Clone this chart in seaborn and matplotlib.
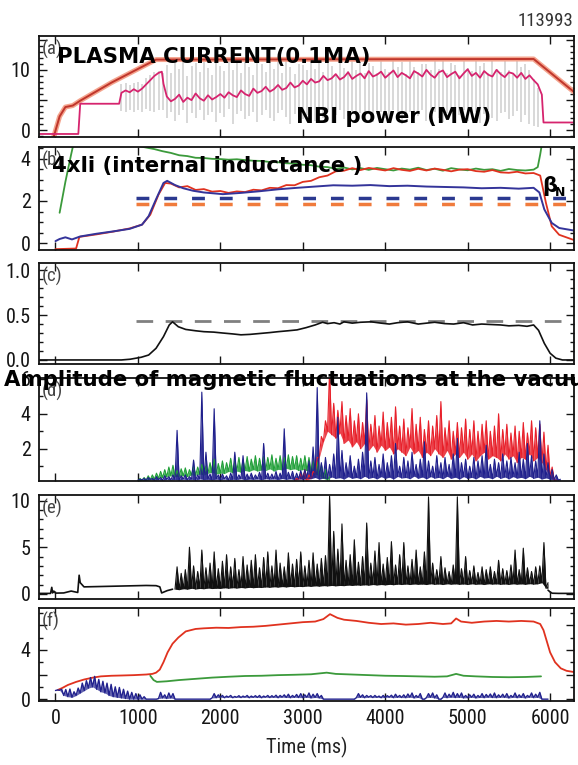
import numpy as np
import matplotlib
matplotlib.use("Agg")
import matplotlib.pyplot as plt
import seaborn as sns
from matplotlib.ticker import FixedLocator, FixedFormatter, MultipleLocator, NullFormatter

sns.set_style("ticks")
plt.rcParams["font.family"] = ["Roboto Condensed", "Liberation Sans Narrow", "Liberation Sans", "DejaVu Sans"]

# ---------------- data ----------------
# (a) plasma current (0.1 MA) and NBI power (MW)
cur_t = [-20, 50, 120, 210, 300, 680, 1220, 5800, 6317]
cur_v = [-1.0, 2.3, 3.85, 4.1, 4.9, 7.9, 11.7, 11.8, 6.05]

nbi_t_early = [-200, 277, 300, 772, 800, 850, 900, 950, 1000, 1050, 1100, 1150, 1200, 1250, 1290, 1310]
nbi_v_early = [-0.6, -0.6, 4.4, 4.4, 6.2, 6.6, 6.3, 6.8, 6.4, 6.9, 7.6, 8.3, 9.0, 9.5, 9.7, 7.7]
nbi_t = np.arange(1350, 5901, 50)
nbi_v = [5.6, 4.8, 5.2, 5.9, 4.7, 5.4, 5.0, 6.1, 5.3, 4.9, 5.8, 5.1, 5.5, 6.0,
         5.4, 6.3, 5.8, 5.5, 6.6, 6.0, 5.7, 6.9, 6.2, 6.5,
         7.2, 6.4, 6.8, 7.5, 6.7, 7.0, 7.9, 7.1, 7.4, 8.2,
         7.6, 8.5, 7.9, 8.1, 9.0, 8.3, 8.6, 9.3, 8.4, 8.8,
         9.6, 8.5, 9.0, 9.4, 8.6, 9.8, 8.9, 9.2, 9.7, 8.7,
         9.3, 9.9, 8.8, 9.5, 9.1, 8.6, 9.8, 9.4, 8.9, 10.0,
         9.2, 8.7, 9.6, 9.9, 8.8, 9.3, 9.7, 8.6, 9.4, 10.1,
         9.0, 9.5, 8.7, 9.8, 9.2, 8.9, 10.0, 9.3, 8.8, 9.6,
         9.4, 8.7, 9.5, 8.5, 9.1, 8.3, 7.6, 5.9]
nbi_t_late = [5920, 6290]
nbi_v_late = [1.3, 1.3]

gray_t = np.arange(800, 5851, 50)
gray_lo = [3.2, 3.0, 3.4, 3.1, 3.3, 3.0, 3.5, 3.2, 3.1, 3.4, 3.3,
           2.1, 3.0, 1.5, 2.6, 3.3, 1.2, 2.8, 2.0, 3.4, 1.7,
           2.5, 3.1, 1.4, 2.9, 2.2, 3.5, 1.1, 2.7, 3.2, 1.9,
           2.4, 3.0, 1.3, 2.6, 3.3, 2.0, 1.6, 2.9, 3.4, 2.2,
           1.0, 2.7, 3.1, 1.8, 2.5, 3.3, 1.5, 2.8, 2.1, 3.0,
           1.2, 2.6, 3.4, 1.9, 2.3, 3.1, 1.6, 2.9, 2.4, 3.2,
           1.4, 2.7, 3.0, 2.0, 1.7, 3.3, 2.5, 1.1, 2.8, 3.1,
           1.9, 2.4, 3.4, 1.5, 2.6, 3.0, 2.1, 1.3, 2.9, 3.2,
           1.8, 2.5, 3.3, 1.6, 2.2, 3.0, 1.2, 2.7, 3.4, 2.0,
           1.5, 2.8, 3.1, 1.9, 2.4, 3.2, 1.4, 2.6, 1.0, 0.8, 0.6]
gray_hi = [7.6, 7.8, 7.5, 7.9, 8.0, 7.7, 8.6, 9.2, 9.6, 9.8, 9.5,
           10.8, 9.4, 11.6, 10.1, 12.0, 9.0, 10.6, 11.2, 9.6, 11.9,
           10.3, 9.2, 11.4, 10.7, 9.8, 12.1, 10.0, 11.1, 9.5, 11.7,
           10.4, 9.1, 11.5, 10.9, 9.7, 12.0, 10.2, 11.3, 9.4, 11.8,
           10.5, 9.3, 11.0, 10.8, 9.9, 12.1, 10.1, 11.4, 9.6, 11.6,
           10.6, 9.2, 11.2, 10.3, 9.8, 11.9, 10.0, 11.5, 9.5, 11.1,
           10.7, 9.4, 11.7, 10.2, 9.7, 12.0, 10.4, 11.3, 9.3, 11.8,
           10.5, 9.6, 11.0, 10.9, 9.9, 12.1, 10.1, 11.6, 9.4, 11.2,
           10.8, 9.2, 11.5, 10.3, 9.8, 11.9, 10.6, 11.1, 9.5, 11.7,
           10.2, 9.7, 11.4, 10.0, 9.3, 11.8, 10.5, 11.0, 9.9, 8.5, 7.0]

# (b) 4 x li (green), red trace, beta_N (blue), limits (dashed)
gb_t_early = [50, 120, 190, 230, 500, 800, 1000, 1200]
gb_v_early = [1.44, 2.9, 4.2, 4.9, 5.2, 4.75, 4.6, 4.45]
gb_t = np.arange(1300, 5801, 100)
gb_v = [4.35, 4.27, 4.16, 4.12, 4.04, 4.03, 3.99, 3.98, 3.95, 3.97,
        3.93, 3.90, 3.89, 3.84, 3.83, 3.78, 3.77, 3.71, 3.69, 3.62,
        3.60, 3.52, 3.58, 3.49, 3.55, 3.47, 3.56, 3.50, 3.44, 3.53,
        3.48, 3.57, 3.46, 3.52, 3.43, 3.55, 3.49, 3.45, 3.53, 3.47,
        3.50, 3.42, 3.51, 3.46, 3.44, 3.48]
gb_t_late = [5850, 5880, 5910]
gb_v_late = [3.6, 4.2, 4.9]

rb_t_early = [0, 250, 290, 500, 700, 900, 1050, 1150, 1250, 1330]
rb_v_early = [-0.28, -0.25, 0.3, 0.42, 0.55, 0.7, 0.88, 1.35, 2.3, 2.85]
rb_t = np.arange(1400, 5801, 100)
rb_v = [2.82, 2.64, 2.7, 2.52, 2.56, 2.44, 2.47, 2.38, 2.45, 2.42,
        2.53, 2.5, 2.62, 2.6, 2.75, 2.74, 2.9, 2.95, 3.12, 3.2,
        3.4, 3.43, 3.55, 3.46, 3.56, 3.5, 3.44, 3.55, 3.47, 3.42,
        3.52, 3.44, 3.53, 3.47, 3.4, 3.48, 3.5, 3.41, 3.38, 3.46,
        3.35, 3.33, 3.38, 3.3, 3.32]
rb_t_late = [5880, 5950, 6020, 6110, 6290]
rb_v_late = [3.2, 1.9, 0.8, 0.4, 0.15]

bn_t = [0, 50, 120, 200, 300, 500, 700, 900, 1050, 1130, 1220, 1310, 1355, 1450, 1550,
        1670, 1800, 2030, 2250, 2480, 2700, 2930, 3150, 3370, 3600, 3820, 4050, 4270, 4500,
        4720, 4950, 5170, 5400, 5620, 5800, 5870, 5930, 6020, 6110, 6200, 6290]
bn_v = [0.1, 0.2, 0.28, 0.18, 0.32, 0.45, 0.56, 0.68, 0.88, 1.28, 2.08, 2.85, 2.95, 2.75, 2.6,
        2.48, 2.4, 2.32, 2.38, 2.46, 2.55, 2.62, 2.68, 2.74, 2.72, 2.75, 2.7, 2.72, 2.68,
        2.66, 2.64, 2.6, 2.62, 2.58, 2.62, 2.4, 1.6, 0.96, 0.72, 0.66, 0.6]

lim_t = [980, 6290]
lim_blue = [2.15, 2.15]
lim_orange = [1.85, 1.85]

# (c)
c_t = [-200, 800, 905, 1040, 1130, 1220, 1310, 1380, 1420, 1490, 1580, 1700, 1800, 1920, 2030,
       2150, 2250, 2360, 2480, 2600, 2700, 2820, 2930, 3040, 3150, 3240, 3300, 3380, 3450, 3500,
       3600, 3700, 3830, 3950, 4050, 4150, 4270, 4400, 4500, 4600, 4720, 4830, 4950, 5060, 5170,
       5280, 5400, 5500, 5620, 5720, 5800, 5860, 5930, 6000, 6070, 6150, 6290]
c_v = [0.0, 0.0, 0.008, 0.03, 0.055, 0.13, 0.26, 0.39, 0.425, 0.37, 0.34, 0.325, 0.315, 0.31, 0.30,
       0.29, 0.28, 0.285, 0.295, 0.305, 0.315, 0.325, 0.335, 0.36, 0.39, 0.42, 0.405, 0.415, 0.40, 0.425,
       0.41, 0.42, 0.425, 0.41, 0.40, 0.415, 0.425, 0.40, 0.41, 0.42, 0.405, 0.40, 0.415, 0.39, 0.40,
       0.395, 0.39, 0.38, 0.385, 0.375, 0.39, 0.33, 0.185, 0.075, 0.02, 0.0, 0.0]
c_ref_t = [980, 6290]
c_ref_v = [0.43, 0.43]

# (d) magnetic fluctuation amplitude envelopes (low / high at each 50 ms sample)
dg_t = np.arange(1000, 3301, 50)
dg_hi = [0.3, 0.35, 0.45, 0.5, 0.6, 0.7, 0.8, 0.95, 1.05, 0.75,
         0.85, 0.9, 0.8, 1.0, 0.95, 1.1, 1.0, 1.2, 1.4, 1.15,
         1.3, 1.2, 1.45, 1.3, 1.5, 1.35, 1.55, 1.4, 1.6, 1.45,
         1.55, 1.5, 1.65, 1.45, 1.6, 1.5, 1.65, 1.55, 1.6, 1.45,
         1.6, 1.5, 1.35, 1.25, 1.1, 0.8, 0.4]
dg_lo = [0.15, 0.18, 0.2, 0.22, 0.25, 0.3, 0.35, 0.4, 0.45, 0.4,
         0.42, 0.45, 0.4, 0.5, 0.48, 0.55, 0.5, 0.6, 0.65, 0.55,
         0.6, 0.58, 0.7, 0.62, 0.72, 0.65, 0.75, 0.7, 0.8, 0.72,
         0.78, 0.75, 0.85, 0.72, 0.82, 0.78, 0.88, 0.8, 0.85, 0.75,
         0.8, 0.75, 0.65, 0.55, 0.45, 0.3, 0.2]

db_t = np.arange(1000, 6101, 50)
db_hi = [0.25, 0.3, 0.35, 0.3, 0.4, 0.35, 0.45, 0.4, 0.5, 3.05,
         0.45, 0.5, 0.4, 1.35, 0.5, 5.24, 1.8, 0.55, 4.29, 0.5,
         0.55, 0.45, 0.6, 1.8, 0.5, 1.6, 0.55, 0.6, 0.5, 0.65,
         2.3, 0.6, 0.55, 0.7, 0.6, 3.14, 0.65, 0.7, 0.6, 0.75,
         0.8, 1.3, 2.1, 5.5, 1.2, 1.5, 1.1, 1.7, 3.8, 1.9,
         1.2, 1.6, 1.0, 1.4, 1.8, 5.2, 1.3, 1.5, 1.1, 1.7,
         1.2, 1.6, 2.3, 1.0, 1.5, 1.3, 1.8, 1.1, 1.4, 2.4,
         1.3, 1.0, 1.6, 1.2, 1.5, 1.1, 1.7, 2.6, 1.2, 1.4,
         1.0, 1.5, 1.3, 1.6, 2.2, 1.1, 1.4, 1.2, 1.7, 1.3,
         1.5, 1.2, 1.8, 1.4, 2.3, 1.6, 1.3, 3.6, 1.7, 1.2,
         0.8, 0.5, 0.25]
db_lo = [0.2, 0.22, 0.2, 0.24, 0.2, 0.23, 0.2, 0.25, 0.21, 0.24,
         0.2, 0.26, 0.22, 0.25, 0.2, 0.27, 0.23, 0.25, 0.21, 0.26,
         0.22, 0.27, 0.2, 0.25, 0.23, 0.28, 0.21, 0.26, 0.24, 0.27,
         0.22, 0.28, 0.25, 0.27, 0.23, 0.29, 0.24, 0.28, 0.22, 0.27,
         0.25, 0.3, 0.28, 0.35, 0.25, 0.32, 0.27, 0.38, 0.3, 0.34,
         0.26, 0.4, 0.3, 0.35, 0.28, 0.42, 0.3, 0.36, 0.27, 0.4,
         0.3, 0.37, 0.26, 0.41, 0.32, 0.35, 0.28, 0.43, 0.3, 0.38,
         0.27, 0.4, 0.31, 0.36, 0.28, 0.42, 0.3, 0.37, 0.26, 0.4,
         0.3, 0.36, 0.27, 0.41, 0.32, 0.35, 0.28, 0.42, 0.3, 0.38,
         0.27, 0.4, 0.31, 0.36, 0.28, 0.42, 0.3, 0.37, 0.26, 0.33,
         0.25, 0.22, 0.2]

dr_t = np.arange(2900, 6051, 50)
dr_hi = [0.3, 0.6, 0.8, 0.5, 0.7, 1.5, 2.7, 3.6, 6.5, 4.6,
         4.2, 4.7, 3.9, 4.3, 3.6, 4.0, 3.5, 4.8, 3.4, 3.9,
         3.3, 4.1, 3.5, 3.8, 4.4, 3.3, 3.7, 3.2, 4.3, 3.4,
         3.8, 3.1, 3.6, 3.3, 3.9, 4.7, 3.2, 3.6, 3.0, 3.5,
         3.2, 3.7, 3.1, 3.6, 3.0, 3.4, 3.6, 3.0, 3.3, 4.0,
         3.1, 3.4, 2.9, 3.3, 3.0, 3.5, 2.9, 3.6, 3.2, 3.4,
         2.95, 2.2, 0.95, 0.2]
dr_lo = [0.2, 0.25, 0.3, 0.2, 0.3, 0.6, 1.5, 2.4, 3.0, 2.8,
         2.6, 2.9, 2.3, 2.5, 2.1, 2.4, 2.0, 2.3, 1.9, 2.2,
         1.8, 2.2, 1.9, 2.1, 1.7, 2.0, 1.8, 1.6, 2.1, 1.7,
         1.9, 1.5, 1.8, 1.6, 2.0, 1.7, 1.5, 1.9, 1.4, 1.7,
         1.5, 1.8, 1.4, 1.7, 1.3, 1.6, 1.8, 1.4, 1.6, 1.5,
         1.3, 1.7, 1.4, 1.6, 1.2, 1.5, 1.4, 1.7, 1.3, 1.5,
         1.2, 0.8, 0.4, 0.2]

# (e)
e0_t = [-200, -60, -45, -35, -20, 0, 100, 190, 270, 287, 300, 346, 500, 700, 900, 1100, 1221, 1266, 1288, 1356, 1420]
e0_v = [0.05, 0.05, 0.7, 0.1, 0.3, 0.08, 0.1, 0.3, 0.15, 2.0, 1.2, 0.75, 0.78, 0.82, 0.86, 0.9, 0.88, 0.75, 0.1, 0.35, 0.5]
e_t = np.arange(1450, 5951, 50)
e_hi = [2.9, 2.2, 2.6, 5.0, 3.0, 2.4, 4.7, 2.8, 3.3, 4.5,
        2.7, 3.5, 4.2, 2.9, 3.8, 2.6, 4.0, 3.1, 3.6, 4.2,
        2.8, 3.9, 4.5, 3.0, 4.7, 3.3, 2.9, 4.4, 3.2, 3.7,
        4.5, 3.0, 3.6, 4.4, 3.2, 3.8, 4.1, 10.5, 6.7, 4.8,
        7.5, 3.6, 4.2, 5.8, 3.4, 4.0, 7.6, 3.3, 4.6, 5.5,
        3.2, 3.9, 5.6, 3.1, 4.2, 5.5, 3.0, 3.7, 4.7, 2.9,
        4.5, 10.4, 3.3, 2.6, 4.0, 2.8, 2.4, 3.1, 10.4, 2.7,
        4.0, 2.5, 3.0, 2.3, 2.9, 2.6, 2.9, 2.4, 3.6, 2.7,
        2.5, 3.1, 4.7, 2.6, 4.9, 2.8, 2.4, 2.9, 3.0, 5.5,
        1.2]
e_lo = [0.5, 0.45, 0.55, 0.5, 0.6, 0.52, 0.58, 0.55, 0.62, 0.57,
        0.6, 0.58, 0.65, 0.6, 0.66, 0.62, 0.68, 0.64, 0.7, 0.66,
        0.7, 0.68, 0.74, 0.7, 0.76, 0.72, 0.78, 0.74, 0.8, 0.76,
        0.8, 0.78, 0.84, 0.8, 0.86, 0.82, 0.88, 0.85, 0.9, 0.86,
        0.9, 0.88, 0.94, 0.9, 0.95, 0.92, 0.97, 0.93, 1.0, 0.95,
        1.0, 0.96, 1.02, 0.98, 1.04, 1.0, 1.05, 1.0, 1.06, 1.02,
        1.05, 1.0, 1.08, 1.02, 1.06, 1.0, 1.08, 1.03, 1.07, 1.02,
        1.06, 1.0, 1.08, 1.02, 1.06, 1.0, 1.08, 1.04, 1.07, 1.02,
        1.06, 1.01, 1.08, 1.03, 1.07, 1.02, 1.09, 1.04, 1.08, 1.2,
        0.6]
e1_t = [5975, 6000, 6025, 6100, 6290]
e1_v = [0.4, 0.2, 0.07, 0.05, 0.05]

# (f)
fr_t = [30, 80, 150, 250, 350, 455, 550, 680, 800, 950, 1100, 1175, 1220, 1265, 1310, 1360, 1420,
        1490, 1580, 1700, 1800, 1950, 2100, 2250, 2400, 2550, 2700, 2850, 3000, 3150, 3250, 3330,
        3420, 3500, 3650, 3800, 3950, 4100, 4250, 4400, 4550, 4700, 4800, 4860, 4920, 5050, 5200,
        5350, 5500, 5650, 5800, 5880, 5920, 5960, 6000, 6060, 6130, 6200, 6290]
fr_v = [0.75, 0.9, 1.15, 1.4, 1.6, 1.75, 1.85, 1.9, 1.92, 1.95, 2.0, 2.05, 2.15, 2.4, 3.0, 3.8, 4.5,
        5.0, 5.5, 5.7, 5.75, 5.8, 5.78, 5.85, 5.88, 5.95, 6.05, 6.15, 6.25, 6.3, 6.5, 6.9,
        6.6, 6.45, 6.35, 6.2, 6.1, 6.15, 6.05, 6.1, 6.2, 6.1, 6.15, 6.55, 6.3, 6.2, 6.3,
        6.35, 6.3, 6.35, 6.3, 6.1, 5.6, 4.7, 3.8, 3.0, 2.5, 2.3, 2.2]
fg_t = [1150, 1190, 1230, 1350, 1500, 1700, 1900, 2100, 2300, 2500, 2700, 2900, 3100, 3290, 3400,
        3600, 3800, 4000, 4200, 4400, 4600, 4750, 4860, 4950, 5100, 5300, 5500, 5700, 5890]
fg_v = [1.9, 1.55, 1.4, 1.45, 1.55, 1.65, 1.75, 1.82, 1.88, 1.9, 1.95, 1.98, 2.02, 2.15, 2.05,
        2.0, 1.95, 1.9, 1.88, 1.85, 1.82, 1.85, 2.05, 1.9, 1.85, 1.8, 1.78, 1.8, 1.85]
fb_t = np.arange(0, 5951, 50)
fb_hi = [0.75, 0.8, 0.78, 0.82, 0.6, 0.9, 1.3, 1.5, 1.75, 1.85,
         1.6, 1.45, 1.3, 1.2, 1.0, 0.95, 0.8, 0.65, 0.55, 0.45,
         0.35, 0.2, 0.0, 0.0, 0.0, 0.55, 0.35, 0.5, 0.45, 0.0,
         0.0, 0.0, 0.0, 0.0, 0.0, 0.0, 0.0, 0.0, 0.45, 0.35,
         0.3, 0.25, 0.3, 0.22, 0.28, 0.25, 0.3, 0.25, 0.28, 0.3,
         0.25, 0.3, 0.28, 0.32, 0.3, 0.35, 0.4, 0.3, 0.38, 0.45,
         0.35, 0.5, 0.4, 0.45, 0.3, 0.0, 0.0, 0.0, 0.0, 0.0,
         0.0, 0.0, 0.0, 0.45, 0.35, 0.3, 0.28, 0.3, 0.25, 0.3,
         0.28, 0.32, 0.4, 0.3, 0.35, 0.42, 0.5, 0.3, 0.45, 0.0,
         0.45, 0.5, 0.35, 0.0, 0.5, 0.4, 0.55, 0.45, 0.5, 0.3,
         0.35, 0.4, 0.3, 0.45, 0.38, 0.42, 0.5, 0.35, 0.4, 0.45,
         0.3, 0.5, 0.35, 0.45, 0.3, 0.5, 0.4, 0.55, 0.0, 0.0]
fb_lo = [0.7, 0.72, 0.3, 0.2, 0.15, 0.3, 0.5, 0.7, 0.9, 1.0,
         0.8, 0.6, 0.5, 0.3, 0.2, 0.15, 0.1, 0.05, 0.0, 0.0,
         0.0, 0.0, 0.0, 0.0, 0.0, 0.05, 0.1, 0.05, 0.1, 0.0,
         0.0, 0.0, 0.0, 0.0, 0.0, 0.0, 0.0, 0.0, 0.1, 0.12,
         0.15, 0.12, 0.16, 0.12, 0.15, 0.13, 0.16, 0.12, 0.15, 0.14,
         0.12, 0.16, 0.13, 0.15, 0.12, 0.16, 0.14, 0.12, 0.15, 0.13,
         0.12, 0.15, 0.1, 0.14, 0.1, 0.0, 0.0, 0.0, 0.0, 0.0,
         0.0, 0.0, 0.0, 0.12, 0.15, 0.12, 0.16, 0.13, 0.15, 0.12,
         0.14, 0.16, 0.12, 0.15, 0.13, 0.12, 0.16, 0.1, 0.14, 0.0,
         0.12, 0.15, 0.1, 0.0, 0.14, 0.12, 0.16, 0.13, 0.15, 0.1,
         0.12, 0.15, 0.1, 0.14, 0.12, 0.16, 0.13, 0.12, 0.15, 0.14,
         0.1, 0.15, 0.12, 0.14, 0.1, 0.16, 0.12, 0.15, 0.0, 0.0]

x_ticks = [0, 1000, 2000, 3000, 4000, 5000, 6000]

# ---------------- figure ----------------
W, H = 578, 765
fig = plt.figure(figsize=(W / 100, H / 100), dpi=100)

def add_ax(top, bot, left=39, right=574):
    return fig.add_axes([left / W, 1 - bot / H, (right - left) / W, (bot - top) / H])

def line(ax, x, y, color, lw=1.2, **kw):
    sns.lineplot(x=np.asarray(x, float), y=np.asarray(y, float), ax=ax, color=color,
                 linewidth=lw, estimator=None, sort=False, legend=False, **kw)

def zig(t, lo, hi, step=50):
    t = np.asarray(t, float)
    xs = np.empty(2 * len(t)); ys = np.empty(2 * len(t))
    xs[0::2] = t; xs[1::2] = t + step / 2
    ys[0::2] = lo; ys[1::2] = hi
    return xs, ys

def band(ax, t, lo, hi, color, alpha, lw=0.8):
    xs, ys = zig(t, lo, hi)
    base = np.interp(xs, np.asarray(t, float), np.asarray(lo, float))
    ax.fill_between(xs, base, ys, color=color, alpha=alpha, lw=0)
    line(ax, xs, ys, color, lw=lw)

def style(ax, ylim, major, labels, minor, letter, show_x=False):
    ax.set_xlim(-200, 6290)
    ax.set_ylim(*ylim)
    ax.xaxis.set_major_locator(FixedLocator(x_ticks))
    ax.yaxis.set_major_locator(FixedLocator(major))
    ax.yaxis.set_major_formatter(FixedFormatter(labels))
    ax.yaxis.set_minor_locator(MultipleLocator(minor))
    ax.yaxis.set_minor_formatter(NullFormatter())
    ax.tick_params(axis="both", which="both", direction="in", top=True, right=True,
                   colors="#151515", labelsize=14.5, width=1.0)
    ax.tick_params(axis="both", which="major", length=5.5, pad=6)
    ax.tick_params(axis="y", which="minor", length=3)
    if not show_x:
        ax.tick_params(axis="x", labelbottom=False)
    for s in ax.spines.values():
        s.set_linewidth(1.3)
        s.set_color("#111111")
        s.set_visible(True)
    ax.set_xlabel(""); ax.set_ylabel("")
    ax.text(0.006, 0.96, letter, transform=ax.transAxes, ha="left", va="top",
            fontsize=13.5, color="#444444")

# (a)
ax = add_ax(36, 137)
ax.vlines(gray_t, gray_lo, gray_hi, color="#d2d2d2", lw=1.2, zorder=1)
line(ax, cur_t, cur_v, "#f4a48e", lw=3.6)
line(ax, cur_t, cur_v, "#c0362c", lw=1.4)
line(ax, list(nbi_t_early) + list(nbi_t) + nbi_t_late,
     list(nbi_v_early) + list(nbi_v) + nbi_v_late, "#d6246e", lw=1.3)
style(ax, (-1.1, 15.6), [0, 5, 10, 15], ["0", "", "10", ""], 1, "(a)")

# (b)
ax = add_ax(147, 250)
line(ax, gb_t_early + list(gb_t) + gb_t_late, gb_v_early + gb_v + gb_v_late, "#3b9a3b", lw=1.3)
line(ax, rb_t_early + list(rb_t) + rb_t_late, rb_v_early + rb_v + rb_v_late, "#e0321f", lw=1.3)
line(ax, bn_t, bn_v, "#34349a", lw=1.4)
line(ax, lim_t, lim_blue, "#2b3990", lw=2.5, dashes=(3.7, 4.3))
line(ax, lim_t, lim_orange, "#f07b3c", lw=2.5, dashes=(3.7, 4.3))
style(ax, (-0.32, 4.55), [0, 2, 4], ["0", "2", "4"], 0.5, "(b)")

# (c)
ax = add_ax(263, 364)
line(ax, c_ref_t, c_ref_v, "#808080", lw=2.0, dashes=(6, 4.5))
line(ax, c_t, c_v, "#111111", lw=1.2)
style(ax, (-0.045, 1.08), [0, 0.5, 1.0], ["0.0", "0.5", "1.0"], 0.1, "(c)")

# (d)
ax = add_ax(378, 481)
band(ax, dg_t, dg_lo, dg_hi, "#22a03a", 0.85)
band(ax, dr_t, dr_lo, dr_hi, "#e8202a", 0.85)
band(ax, db_t, db_lo, db_hi, "#1f1f8c", 0.9)
style(ax, (0.15, 6.05), [2, 4, 6], ["2", "4", "6"], 1, "(d)")

# (e)
ax = add_ax(495, 599)
line(ax, e0_t, e0_v, "#111111", lw=1.2)
band(ax, e_t, e_lo, e_hi, "#111111", 1.0)
line(ax, e1_t, e1_v, "#111111", lw=1.2)
style(ax, (-0.55, 10.6), [0, 5, 10], ["0", "5", "10"], 1, "(e)")

# (f)
ax = add_ax(608, 701)
line(ax, fr_t, fr_v, "#e0321f", lw=1.3)
line(ax, fg_t, fg_v, "#3b9a3b", lw=1.3)
band(ax, fb_t, fb_lo, fb_hi, "#22228e", 0.7, lw=1.0)
style(ax, (-0.15, 7.4), [0, 2, 4, 6], ["0", "", "4", ""], 1, "(f)", show_x=True)
ax.set_xlabel("Time (ms)", fontsize=14.5, color="#222222", labelpad=6)

# overlay texts
def ftext(x, y, s, **kw):
    fig.text(x / W, 1 - y / H, s, **kw)

bold = dict(family="DejaVu Sans", weight="bold", fontsize=15.3, color="black", va="center", ha="left", zorder=10)
ftext(573, 21, "113993", ha="right", va="center", fontsize=13.5, color="#333333")
ftext(57, 57, "PLASMA CURRENT(0.1MA)", **bold)
ftext(296, 117, "NBI power (MW)", **bold)
ftext(52, 166, "4xli (internal inductance )", **bold)
ftext(542, 186, "β", **bold)
ftext(555, 192, "N", **dict(bold, fontsize=9))
ftext(4, 380, "Amplitude of magnetic fluctuations at the vacuum vessel", **bold)

fig.savefig("out.png", dpi=100)
